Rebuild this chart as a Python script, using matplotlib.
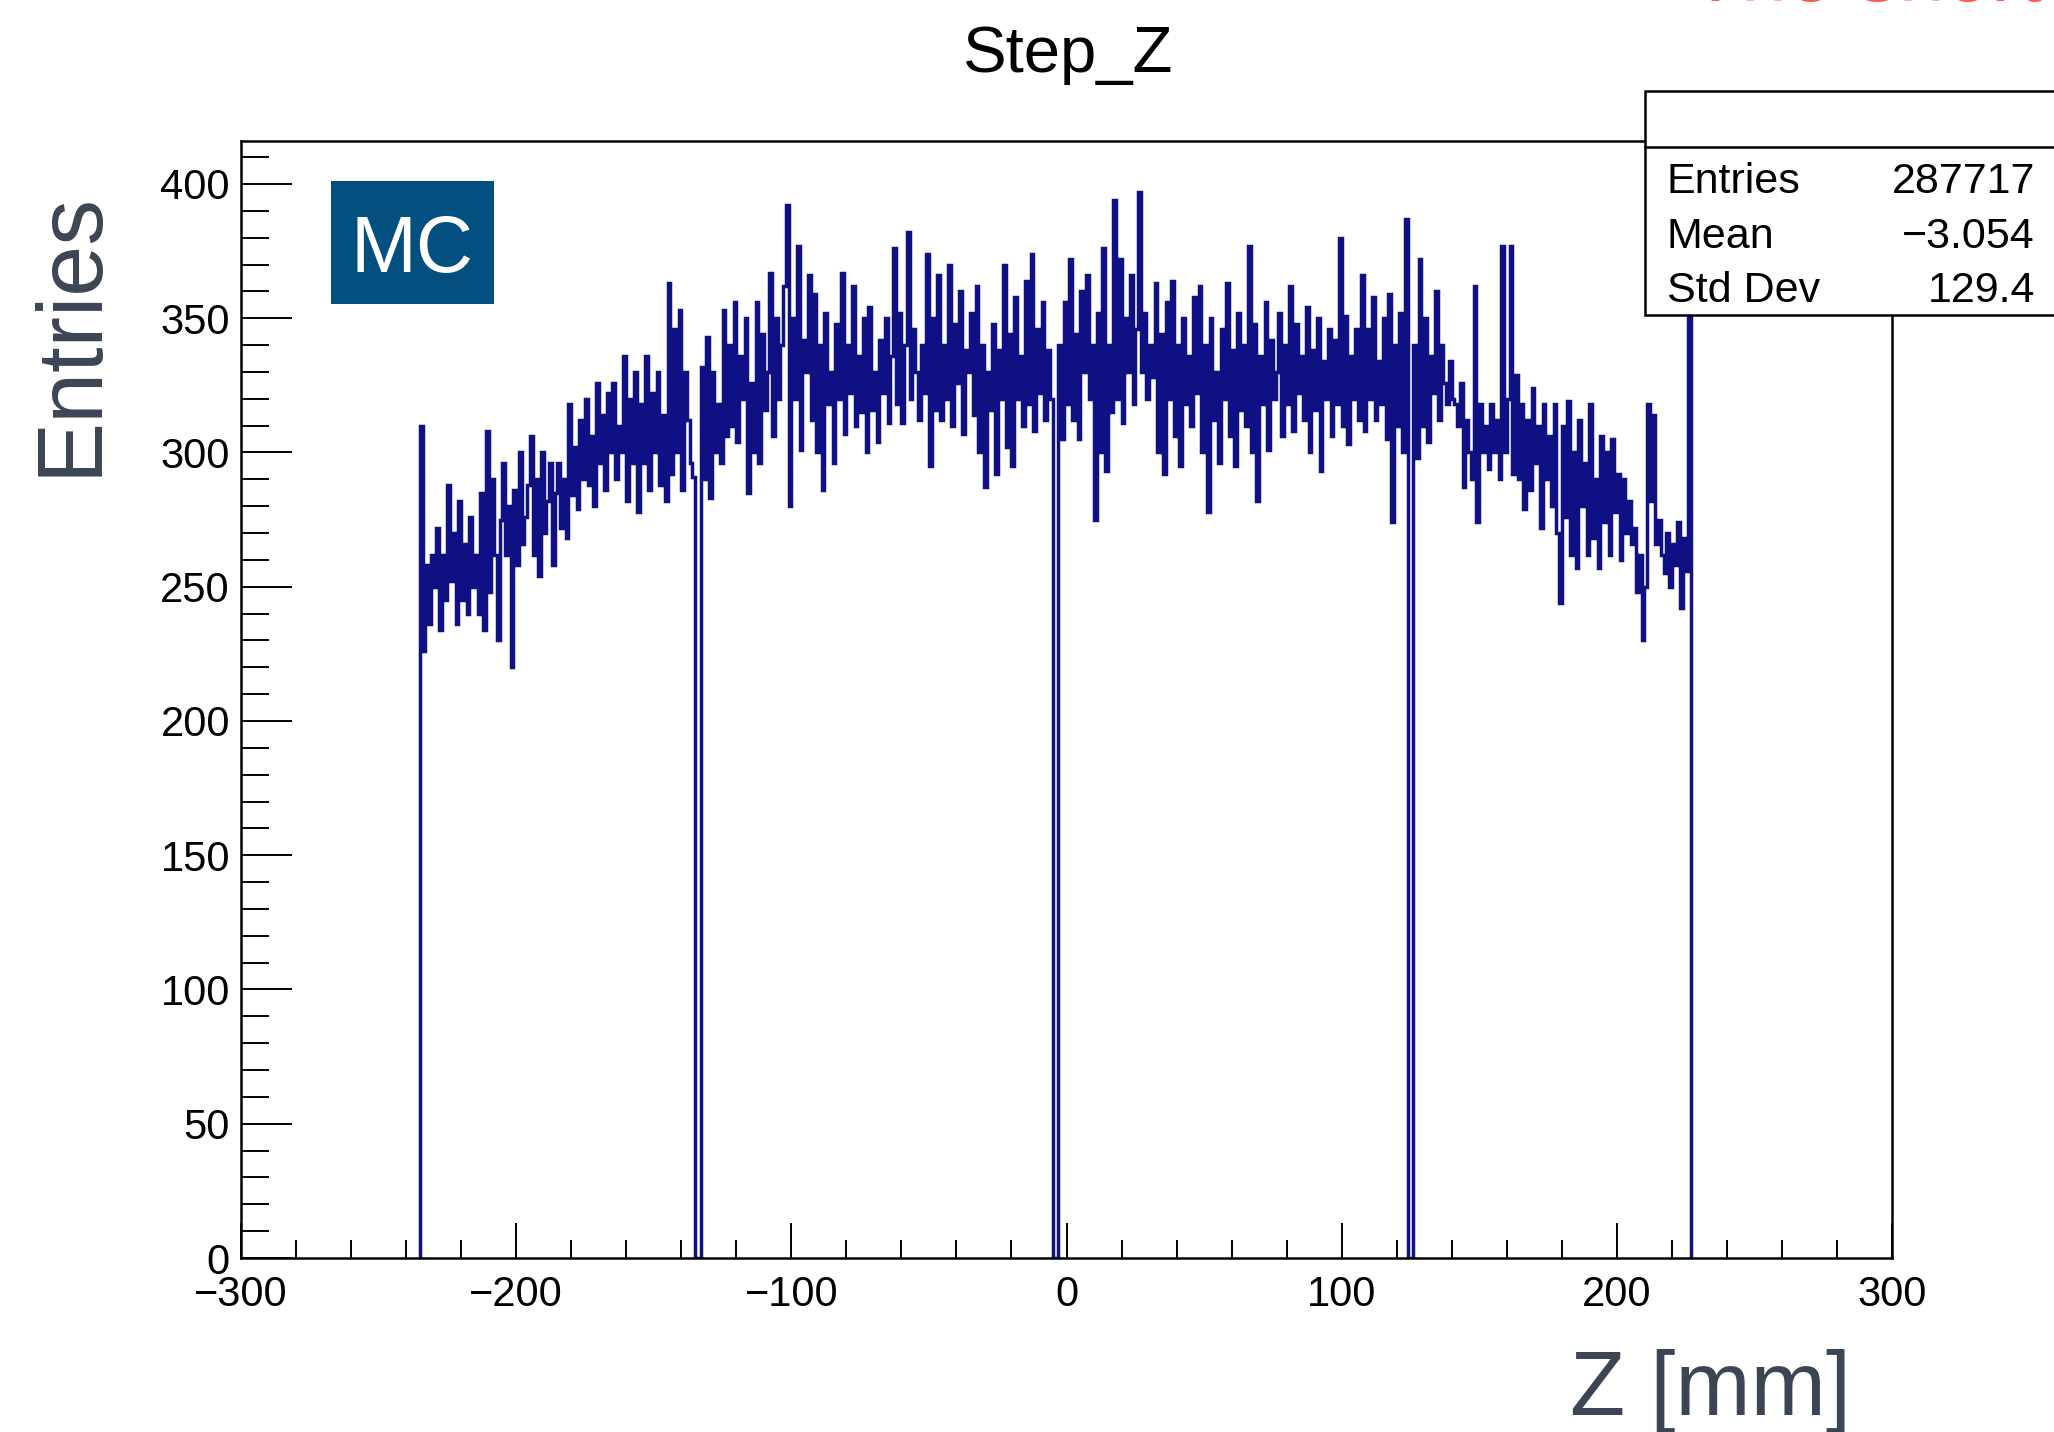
import numpy as np
import matplotlib
matplotlib.use("Agg")
import matplotlib.pyplot as plt
from matplotlib.patches import Rectangle
from matplotlib.lines import Line2D
from matplotlib.ticker import MultipleLocator

# ---------------- data ----------------
title = "Step_Z"
xlabel = "Z [mm]"
ylabel = "Entries"
tag = "MC"
stats_names = ["Entries", "Mean", "Std Dev"]
stats_values = ["287717", "\u22123.054", "129.4"]
x_ticks = [-300, -200, -100, 0, 100, 200, 300]
y_ticks = [0, 50, 100, 150, 200, 250, 300, 350, 400]
z_first_edge = -235   # mm, left edge of first filled bin
bin_width = 1         # mm

counts = [
    # -235 .. -136
    310, 226, 258, 236, 262, 250, 272, 234, 262, 245,
    288, 252, 270, 236, 282, 245, 266, 240, 276, 250,
    262, 240, 285, 234, 308, 248, 290, 262, 230, 275,
    296, 262, 280, 220, 286, 258, 300, 266, 276, 288,
    306, 262, 290, 254, 300, 270, 282, 296, 258, 285,
    296, 272, 290, 268, 318, 284, 302, 279, 312, 290,
    320, 288, 306, 280, 326, 296, 314, 286, 322, 300,
    326, 290, 310, 300, 336, 282, 320, 296, 330, 278,
    318, 296, 336, 286, 322, 300, 330, 288, 314, 282,
    363, 292, 346, 300, 353, 286, 330, 312, 296, 291,
    # -135 .. -134 (empty)
    0, 0,
    # -133 .. -14
    332, 290, 343, 283, 330, 300, 318, 296, 353, 306,
    340, 310, 356, 304, 336, 320, 350, 285, 326, 300,
    356, 296, 344, 316, 330, 367, 306, 350, 320, 340,
    362, 392, 280, 350, 320, 377, 301, 342, 330, 366,
    312, 359, 300, 340, 286, 352, 318, 330, 296, 348,
    320, 367, 307, 340, 322, 362, 310, 336, 315, 350,
    300, 354, 316, 330, 304, 342, 322, 350, 311, 336,
    376, 318, 352, 311, 340, 382, 320, 346, 330, 312,
    340, 322, 374, 295, 350, 316, 366, 312, 340, 320,
    370, 310, 348, 326, 360, 307, 338, 330, 352, 314,
    362, 300, 340, 287, 330, 316, 348, 292, 338, 320,
    370, 302, 344, 295, 358, 320, 336, 310, 364, 318,
    # -13 .. -6
    374, 308, 346, 322, 356, 312, 338, 320,
    # -5 .. -4 (empty)
    0, 0,
    # -3 .. 122
    340, 305, 356, 318, 372, 312, 344, 305, 360, 330,
    366, 320, 340, 275, 352, 300, 376, 293, 340, 315,
    394, 320, 372, 311, 350, 330, 366, 318, 346, 397,
    330, 352, 320, 340, 328, 363, 300, 344, 292, 356,
    320, 364, 306, 340, 295, 350, 318, 336, 310, 358,
    322, 362, 300, 340, 278, 350, 312, 330, 296, 346,
    320, 363, 306, 338, 295, 352, 316, 340, 310, 377,
    300, 348, 282, 336, 318, 356, 301, 342, 320, 330,
    352, 306, 340, 318, 362, 308, 348, 322, 336, 312,
    354, 300, 338, 316, 350, 293, 334, 320, 346, 306,
    342, 318, 380, 310, 351, 303, 336, 320, 346, 312,
    366, 308, 346, 320, 358, 312, 334, 318, 350, 305,
    359, 274, 340, 310, 352, 300,
    # 123
    387,
    # 124 .. 125 (empty)
    0, 0,
    # 126 .. 225
    340, 298, 372, 310, 350, 304, 336, 322, 360, 312,
    340, 326, 318, 334, 320, 318, 310, 326, 287, 312,
    300, 290, 362, 274, 318, 300, 310, 294, 318, 300,
    312, 290, 377, 300, 320, 377, 292, 329, 290, 318,
    279, 312, 286, 324, 296, 310, 272, 318, 290, 306,
    280, 318, 270, 244, 310, 276, 319, 262, 300, 257,
    312, 280, 296, 262, 318, 268, 290, 257, 306, 274,
    300, 262, 305, 278, 292, 260, 290, 270, 282, 266,
    272, 248, 262, 230, 250, 318, 282, 314, 266, 275,
    262, 255, 270, 250, 266, 258, 274, 242, 268, 256,
    # 226
    370,
]

edges = z_first_edge + bin_width * np.arange(len(counts) + 1)

# ---------------- figure ----------------
W, H, DPI = 2054, 1432, 100
plt.rcParams["font.family"] = ["Liberation Sans", "DejaVu Sans"]

fig = plt.figure(figsize=(W / DPI, H / DPI), dpi=DPI)
fig.patch.set_facecolor("white")


def fx(px):
    return px / W


def fy(py):
    return 1 - py / H


ax = fig.add_axes([fx(241), fy(1258), fx(1892) - fx(241), fy(141) - fy(1258)])
ax.stairs(counts, edges, baseline=0, color="#101085", linewidth=2.5)

ax.set_xlim(-300, 300)
ax.set_ylim(0, 416)
ax.set_xticks(x_ticks)
ax.set_yticks(y_ticks)
ax.xaxis.set_minor_locator(MultipleLocator(20))
ax.yaxis.set_minor_locator(MultipleLocator(10))

for s in ax.spines.values():
    s.set_linewidth(1.8)
    s.set_color("black")

ax.tick_params(axis="both", which="both", direction="in", top=False, right=False,
               width=1.4, colors="black", labelsize=30)
ax.tick_params(axis="y", which="major", length=37, pad=8)
ax.tick_params(axis="y", which="minor", length=20)
ax.tick_params(axis="x", which="major", length=25, pad=12)
ax.tick_params(axis="x", which="minor", length=13)

# title
fig.text(fx(1068), fy(72), title, ha="center", va="baseline", fontsize=47, color="black")

# axis labels
label_color = "#3b4554"
fig.text(fx(72), fy(334), ylabel, rotation=90, ha="center", va="center",
         fontsize=66, color=label_color)
fig.text(fx(1851), fy(1415), xlabel, ha="right", va="baseline",
         fontsize=65, color=label_color)

# MC tag
fig.add_artist(Rectangle((fx(331), fy(304)), fx(494) - fx(331), fy(181) - fy(304),
                         transform=fig.transFigure, facecolor="#034f80",
                         edgecolor="none", zorder=5))
fig.text(fx(412), fy(272), tag, ha="center", va="baseline", fontsize=57,
         color="white", zorder=6)

# stats box
box_l, box_r, box_t, box_b, box_div = 1645, 2080, 91, 315, 147
fig.add_artist(Rectangle((fx(box_l), fy(box_b)), fx(box_r) - fx(box_l), fy(box_t) - fy(box_b),
                         transform=fig.transFigure, facecolor="white",
                         edgecolor="black", linewidth=1.8, zorder=5))
fig.add_artist(Line2D([fx(box_l), fx(box_r)], [fy(box_div), fy(box_div)],
                      transform=fig.transFigure, color="black", linewidth=1.8, zorder=6))
for name, val, base in zip(stats_names, stats_values, [193, 248, 302]):
    fig.text(fx(1667), fy(base), name, ha="left", va="baseline", fontsize=31,
             color="black", zorder=7)
    fig.text(fx(2035), fy(base), val, ha="right", va="baseline", fontsize=31,
             color="black", zorder=7)

# partially visible red text at the very top edge
fig.text(fx(1690), fy(1), "The short", ha="left", va="baseline", fontsize=60,
         color="#ff5a4a")

fig.savefig("out.png", dpi=DPI)
